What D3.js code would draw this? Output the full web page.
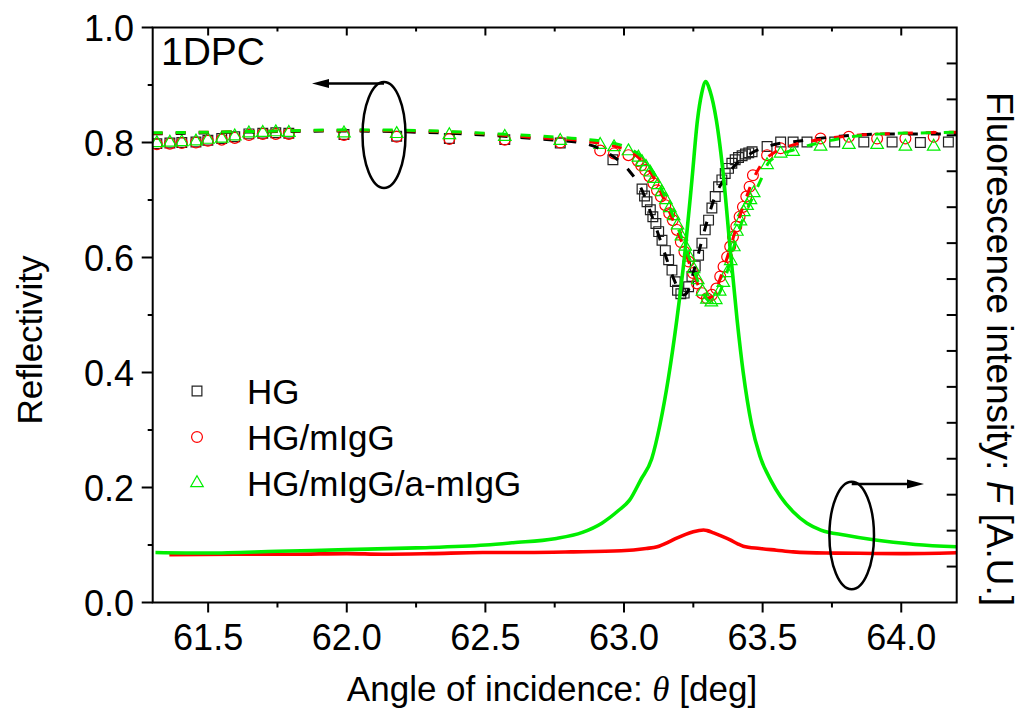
<!DOCTYPE html>
<html>
<head>
<meta charset="utf-8">
<script src="https://cdn.jsdelivr.net/npm/d3@7"></script>
<style>
  body { margin: 0; background: #fff; }
  svg { display: block; }
  text { font-family: "Liberation Sans", Arial, sans-serif; fill: #000; }
</style>
</head>
<body>
<svg id="chart" width="1020" height="713"></svg>
<script>
// ---- Reflectivity measurements (angle in deg, reflectivity) ----
const hgAngle = [61.315, 61.362, 61.405, 61.456, 61.499, 61.549, 61.596, 61.647, 61.697, 61.744, 61.791,
  61.99, 62.18, 62.37, 62.57, 62.77, 62.96,
  63.065, 63.074, 63.083, 63.095, 63.104, 63.115, 63.125, 63.137, 63.149, 63.161, 63.173, 63.185, 63.193,
  63.205, 63.217, 63.233, 63.245, 63.257, 63.269, 63.281, 63.293, 63.305, 63.317, 63.329, 63.341, 63.353,
  63.365, 63.377, 63.389, 63.401, 63.413, 63.426, 63.438, 63.450, 63.462,
  63.516, 63.565, 63.61, 63.66, 63.76, 63.865, 63.967, 64.069, 64.17];
const hgRefl = [0.798, 0.799, 0.800, 0.801, 0.804, 0.807, 0.810, 0.815, 0.816, 0.817, 0.816,
  0.814, 0.811, 0.807, 0.805, 0.799, 0.770,
  0.719, 0.707, 0.697, 0.683, 0.671, 0.659, 0.645, 0.630, 0.612, 0.596, 0.578, 0.558, 0.543,
  0.537, 0.538, 0.549, 0.567, 0.585, 0.604, 0.625, 0.648, 0.665, 0.686, 0.706, 0.723, 0.735,
  0.746, 0.755, 0.764, 0.770, 0.774, 0.777, 0.780, 0.782, 0.784,
  0.793, 0.801, 0.801, 0.801, 0.801, 0.801, 0.801, 0.800, 0.801];

const migAngle = [61.315, 61.362, 61.405, 61.456, 61.499, 61.549, 61.596, 61.647, 61.697, 61.744, 61.791,
  61.99, 62.18, 62.37, 62.57, 62.77, 62.914, 62.964, 63.016,
  63.050, 63.062, 63.076, 63.092, 63.106, 63.119, 63.133, 63.149, 63.163, 63.176, 63.191, 63.205, 63.218,
  63.233, 63.249, 63.263, 63.281, 63.299, 63.317, 63.333, 63.347, 63.359, 63.372, 63.383, 63.393, 63.405,
  63.417, 63.429, 63.441, 63.453, 63.465,
  63.516, 63.565, 63.709, 63.811, 63.913, 64.015, 64.117];
const migRefl = [0.797, 0.798, 0.799, 0.800, 0.803, 0.805, 0.808, 0.813, 0.815, 0.815, 0.815,
  0.813, 0.810, 0.806, 0.805, 0.800, 0.786, 0.781, 0.778,
  0.768, 0.760, 0.752, 0.741, 0.729, 0.717, 0.706, 0.691, 0.677, 0.665, 0.648, 0.627, 0.610,
  0.593, 0.573, 0.555, 0.538, 0.529, 0.535, 0.546, 0.567, 0.584, 0.601, 0.619, 0.636, 0.654,
  0.671, 0.688, 0.706, 0.723, 0.743,
  0.778, 0.790, 0.807, 0.810, 0.807, 0.807, 0.810];

const antiAngle = [61.315, 61.362, 61.405, 61.456, 61.499, 61.549, 61.596, 61.647, 61.697, 61.744, 61.791,
  61.99, 62.18, 62.37, 62.57, 62.77, 62.914, 62.964, 63.016,
  63.052, 63.065, 63.079, 63.094, 63.108, 63.122, 63.136, 63.151, 63.165, 63.179, 63.193, 63.207, 63.221,
  63.236, 63.251, 63.266, 63.283, 63.299, 63.315, 63.331, 63.345, 63.358, 63.372, 63.385, 63.396, 63.407,
  63.420, 63.432, 63.444, 63.456, 63.468,
  63.516, 63.565, 63.61, 63.709, 63.811, 63.913, 64.015, 64.117];
const antiRefl = [0.799, 0.800, 0.801, 0.802, 0.805, 0.807, 0.811, 0.816, 0.817, 0.818, 0.817,
  0.816, 0.815, 0.813, 0.810, 0.803, 0.796, 0.792, 0.785,
  0.774, 0.766, 0.758, 0.748, 0.737, 0.726, 0.714, 0.700, 0.686, 0.672, 0.656, 0.637, 0.619,
  0.600, 0.580, 0.561, 0.541, 0.527, 0.522, 0.526, 0.541, 0.556, 0.573, 0.594, 0.618, 0.645,
  0.663, 0.679, 0.690, 0.700, 0.712,
  0.761, 0.781, 0.784, 0.793, 0.796, 0.796, 0.793, 0.793];

// ---- Fitted reflectivity curves ----
const hgFitAngle = [61.30, 61.50, 61.75, 62.00, 62.25, 62.50, 62.70, 62.85, 62.94, 63.02, 63.06, 63.10, 63.15,
  63.18, 63.20, 63.215, 63.23, 63.25, 63.28, 63.30, 63.33, 63.37, 63.41, 63.45, 63.53, 63.64, 63.78, 63.95, 64.20];
const hgFitRefl = [0.815, 0.817, 0.819, 0.820, 0.818, 0.813, 0.806, 0.799, 0.782, 0.750, 0.722, 0.673, 0.603,
  0.562, 0.542, 0.535, 0.541, 0.573, 0.628, 0.664, 0.708, 0.742, 0.765, 0.779, 0.795, 0.803, 0.811, 0.815, 0.815];

const migFitAngle = [61.30, 61.50, 61.75, 62.00, 62.25, 62.50, 62.70, 62.85, 62.95, 63.03, 63.07, 63.10, 63.15,
  63.20, 63.25, 63.28, 63.30, 63.32, 63.35, 63.38, 63.41, 63.44, 63.47, 63.50, 63.55, 63.62, 63.72, 63.85, 64.00, 64.20];
const migFitRefl = [0.816, 0.818, 0.820, 0.821, 0.820, 0.815, 0.808, 0.803, 0.795, 0.782, 0.765, 0.745, 0.695,
  0.637, 0.572, 0.540, 0.529, 0.533, 0.568, 0.612, 0.660, 0.703, 0.740, 0.765, 0.785, 0.797, 0.806, 0.813, 0.816, 0.818];

const antiFitAngle = [61.30, 61.50, 61.75, 62.00, 62.25, 62.50, 62.70, 62.85, 62.95, 63.03, 63.07, 63.10, 63.15,
  63.20, 63.25, 63.28, 63.30, 63.32, 63.34, 63.37, 63.40, 63.43, 63.46, 63.50, 63.52, 63.56, 63.61, 63.71, 63.78,
  63.93, 64.10, 64.20];
const antiFitRefl = [0.817, 0.818, 0.820, 0.822, 0.821, 0.816, 0.811, 0.806, 0.800, 0.787, 0.772, 0.752, 0.703,
  0.645, 0.580, 0.543, 0.527, 0.522, 0.534, 0.572, 0.625, 0.668, 0.700, 0.742, 0.764, 0.778, 0.787, 0.800, 0.807,
  0.815, 0.817, 0.818];

// ---- Fluorescence intensity (plotted against the reflectivity scale) ----
const fluoAntiAngle = [61.31, 61.50, 61.75, 62.00, 62.25, 62.50, 62.60, 62.75, 62.85, 62.92, 62.98, 63.02, 63.06,
  63.10, 63.13, 63.16, 63.19, 63.22, 63.245, 63.265, 63.28, 63.295, 63.31, 63.333, 63.36, 63.38, 63.408, 63.43,
  63.46, 63.49, 63.53, 63.565, 63.61, 63.66, 63.71, 63.80, 63.90, 64.05, 64.20];
const fluoAnti = [0.087, 0.086, 0.089, 0.092, 0.095, 0.100, 0.104, 0.111, 0.122, 0.138, 0.160, 0.178, 0.213,
  0.250, 0.310, 0.390, 0.490, 0.610, 0.735, 0.839, 0.885, 0.906, 0.890, 0.839, 0.735, 0.630, 0.491, 0.400,
  0.310, 0.255, 0.212, 0.184, 0.158, 0.138, 0.126, 0.117, 0.109, 0.101, 0.097];

const fluoMigAngle = [61.36, 61.60, 61.80, 62.00, 62.13, 62.30, 62.49, 62.65, 62.81, 62.99, 63.08, 63.12, 63.16,
  63.19, 63.22, 63.25, 63.287, 63.30, 63.323, 63.35, 63.383, 63.41, 63.43, 63.49, 63.55, 63.61, 63.73, 63.85,
  64.00, 64.20];
const fluoMig = [0.083, 0.084, 0.084, 0.085, 0.084, 0.085, 0.087, 0.087, 0.088, 0.090, 0.094, 0.097, 0.105,
  0.112, 0.118, 0.123, 0.126, 0.125, 0.121, 0.116, 0.109, 0.102, 0.098, 0.094, 0.091, 0.088, 0.086, 0.0856,
  0.085, 0.0866];

// ---- Axes ----
const xDomain = [61.3, 64.2];
const yDomain = [0, 1.0];
const xMajorTicks = [61.5, 62.0, 62.5, 63.0, 63.5, 64.0];
const xMinorTicks = [61.75, 62.25, 62.75, 63.25, 63.75];
const yMajorTicks = [0.0, 0.2, 0.4, 0.6, 0.8, 1.0];
const yMinorTicks = [0.1, 0.3, 0.5, 0.7, 0.9];
const rightDomain = [0, 16];
const rightTicks = d3.range(1, 16);

const legendNames = ["HG", "HG/mIgG", "HG/mIgG/a-mIgG"];

const BLACK = "#000000", RED = "#ff0000", GREEN = "#00ee00";

const plot = { left: 152.7, right: 956.7, top: 27.5, bottom: 602.5 };
const svg = d3.select("#chart");

const x = d3.scaleLinear().domain(xDomain).range([plot.left, plot.right]);
const y = d3.scaleLinear().domain(yDomain).range([plot.bottom, plot.top]);
const yRight = d3.scaleLinear().domain(rightDomain).range([plot.bottom, plot.top]);

const zip = (a, b) => a.map((v, i) => [v, b[i]]);

// clip to the plotting frame
svg.append("defs").append("clipPath").attr("id", "frame")
  .append("rect").attr("x", plot.left).attr("y", plot.top)
  .attr("width", plot.right - plot.left).attr("height", plot.bottom - plot.top);

const g = svg.append("g").attr("clip-path", "url(#frame)");

// markers
const symSquare = d3.symbol().type(d3.symbolSquare).size(95);
const symCircle = d3.symbol().type(d3.symbolCircle).size(92);
const symTri = d3.symbol().type(d3.symbolTriangle).size(68);

function markers(data, sym, color) {
  g.append("g").selectAll("path").data(data).join("path")
    .attr("d", sym)
    .attr("transform", d => `translate(${x(d[0])},${y(d[1])})`)
    .attr("fill", "none").attr("stroke", color).attr("stroke-width", 1.2);
}
markers(zip(hgAngle, hgRefl), symSquare, "#222");
markers(zip(migAngle, migRefl), symCircle, RED);
markers(zip(antiAngle, antiRefl), symTri, GREEN);

// fitted curves (dashed)
const line = d3.line().x(d => x(d[0])).y(d => y(d[1])).curve(d3.curveMonotoneX);
function fit(data, color) {
  g.append("path").datum(data).attr("d", line)
    .attr("fill", "none").attr("stroke", color).attr("stroke-width", 3)
    .attr("stroke-dasharray", "10,13");
}
fit(zip(hgFitAngle, hgFitRefl), BLACK);
fit(zip(migFitAngle, migFitRefl), RED);
fit(zip(antiFitAngle, antiFitRefl), GREEN);

// fluorescence curves (solid)
function solid(data, color) {
  g.append("path").datum(data).attr("d", line)
    .attr("fill", "none").attr("stroke", color).attr("stroke-width", 3.6)
    .attr("stroke-linejoin", "round");
}
solid(zip(fluoMigAngle, fluoMig), RED);
solid(zip(fluoAntiAngle, fluoAnti), GREEN);

// frame and ticks
const axes = svg.append("g").attr("stroke", "#000").attr("stroke-width", 2);
axes.append("rect").attr("x", plot.left).attr("y", plot.top)
  .attr("width", plot.right - plot.left).attr("height", plot.bottom - plot.top).attr("fill", "none");

// bottom axis (outward ticks)
axes.append("g").selectAll("line").data(xMajorTicks).join("line")
  .attr("x1", d => x(d)).attr("x2", d => x(d)).attr("y1", plot.bottom).attr("y2", plot.bottom + 10);
axes.append("g").selectAll("line").data(xMinorTicks).join("line")
  .attr("x1", d => x(d)).attr("x2", d => x(d)).attr("y1", plot.bottom).attr("y2", plot.bottom + 5);
// top axis (inward ticks)
axes.append("g").selectAll("line").data(xMajorTicks).join("line")
  .attr("x1", d => x(d)).attr("x2", d => x(d)).attr("y1", plot.top).attr("y2", plot.top + 8);
axes.append("g").selectAll("line").data(xMinorTicks).join("line")
  .attr("x1", d => x(d)).attr("x2", d => x(d)).attr("y1", plot.top).attr("y2", plot.top + 4);
// left axis (outward ticks)
axes.append("g").selectAll("line").data(yMajorTicks).join("line")
  .attr("y1", d => y(d)).attr("y2", d => y(d)).attr("x1", plot.left - 11).attr("x2", plot.left);
axes.append("g").selectAll("line").data(yMinorTicks).join("line")
  .attr("y1", d => y(d)).attr("y2", d => y(d)).attr("x1", plot.left - 5).attr("x2", plot.left);
// right axis (inward ticks, unlabeled)
axes.append("g").selectAll("line").data(rightTicks).join("line")
  .attr("y1", d => yRight(d)).attr("y2", d => yRight(d)).attr("x1", plot.right - 10).attr("x2", plot.right);

// tick labels
svg.append("g").selectAll("text").data(xMajorTicks).join("text")
  .attr("x", d => x(d)).attr("y", 650).attr("text-anchor", "middle")
  .attr("font-size", 36).text(d => d.toFixed(1));
svg.append("g").selectAll("text").data(yMajorTicks).join("text")
  .attr("x", 134).attr("y", d => y(d) + 13).attr("text-anchor", "end")
  .attr("font-size", 36).text(d => d.toFixed(1));

// axis titles
const xt = svg.append("text").attr("x", 552).attr("y", 701).attr("text-anchor", "middle").attr("font-size", 35);
xt.append("tspan").text("Angle of incidence: ");
xt.append("tspan").attr("font-family", "Liberation Serif, serif").attr("font-style", "italic").text("θ");
xt.append("tspan").text(" [deg]");

svg.append("text").attr("transform", "translate(42,340) rotate(-90)")
  .attr("text-anchor", "middle").attr("font-size", 35).text("Reflectivity");

const rt = svg.append("text").attr("transform", "translate(987,349) rotate(90)")
  .attr("text-anchor", "middle").attr("font-size", 37);
rt.append("tspan").text("Fluorescence intensity: ");
rt.append("tspan").attr("font-style", "italic").text("F");
rt.append("tspan").text(" [A.U.]");

// panel label
svg.append("text").attr("x", 161).attr("y", 65).attr("font-size", 39).text("1DPC");

// legend
const legend = svg.append("g");
const legendSyms = [[symSquare, "#222"], [symCircle, RED], [symTri, GREEN]];
const legendY = [391, 437, 483];
legendNames.forEach((name, i) => {
  legend.append("path").attr("d", legendSyms[i][0])
    .attr("transform", `translate(197,${legendY[i]})`)
    .attr("fill", "none").attr("stroke", legendSyms[i][1]).attr("stroke-width", 1.2);
  legend.append("text").attr("x", 247).attr("y", legendY[i] + 13).attr("font-size", 35).text(name);
});

// annotation ellipses with arrows pointing to the relevant axis
const ann = svg.append("g").attr("stroke", "#000").attr("stroke-width", 2.5).attr("fill", "none");
ann.append("ellipse").attr("cx", 384).attr("cy", 135).attr("rx", 21.5).attr("ry", 53);
ann.append("line").attr("x1", 384).attr("y1", 83.5).attr("x2", 326).attr("y2", 83.5);
svg.append("path").attr("d", "M312,83.5 L329,79 L329,88 Z").attr("fill", "#000");

ann.append("ellipse").attr("cx", 851.7).attr("cy", 535.5).attr("rx", 22.3).attr("ry", 53.8);
ann.append("line").attr("x1", 851.7).attr("y1", 484).attr("x2", 910).attr("y2", 484);
svg.append("path").attr("d", "M924,484 L907,479.5 L907,488.5 Z").attr("fill", "#000");
</script>
</body>
</html>
